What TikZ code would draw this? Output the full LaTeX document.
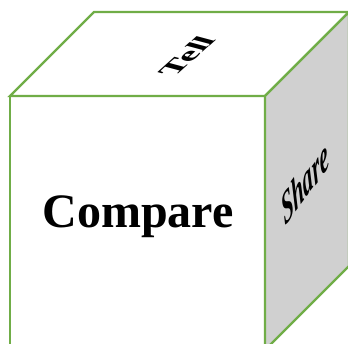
\documentclass[tikz,border=0pt]{standalone}
\usepackage{fontspec}
\setmainfont{Liberation Serif}
\begin{document}
\begin{tikzpicture}[x=1pt,y=1pt,
  face/.style={draw=cubegreen,line width=2.2pt,line join=miter},
  lbl/.style={font=\bfseries,inner sep=0pt}]
\definecolor{cubegreen}{HTML}{70AD47}
\definecolor{sidegray}{HTML}{D0D0D0}
\useasboundingbox (0,0) rectangle (348,344);
\clip (0,0) rectangle (348,344);
\coordinate (ftl) at (10,248);
\coordinate (ftr) at (265,248);
\coordinate (fbl) at (10,-6);
\coordinate (fbr) at (265,-6);
\coordinate (btl) at (94,332);
\coordinate (btr) at (349,332);
\coordinate (bbr) at (349,78);
\fill[white] (0,0) rectangle (348,344);
\draw[face,fill=white] (fbl) -- (ftl) -- (ftr) -- (fbr);
\draw[face,fill=white] (ftl) -- (btl) -- (btr) -- (ftr) -- cycle;
\draw[face,fill=sidegray] (ftr) -- (btr) -- (bbr) -- (fbr) -- cycle;
\node[lbl,font=\bfseries\fontsize{48}{56}\selectfont,anchor=base] (compare) at (138,116) {Compare};
\node[lbl,font=\bfseries\fontsize{30}{34}\selectfont,cm={0.892,0.803,-0.869,0.233,(0,0)}] (tell) at (187,288) {Tell};
\node[lbl,font=\bfseries\itshape\fontsize{31}{35}\selectfont,rotate=54,xslant=0.9] (share) at (305,162) {Share};
\end{tikzpicture}
\end{document}
